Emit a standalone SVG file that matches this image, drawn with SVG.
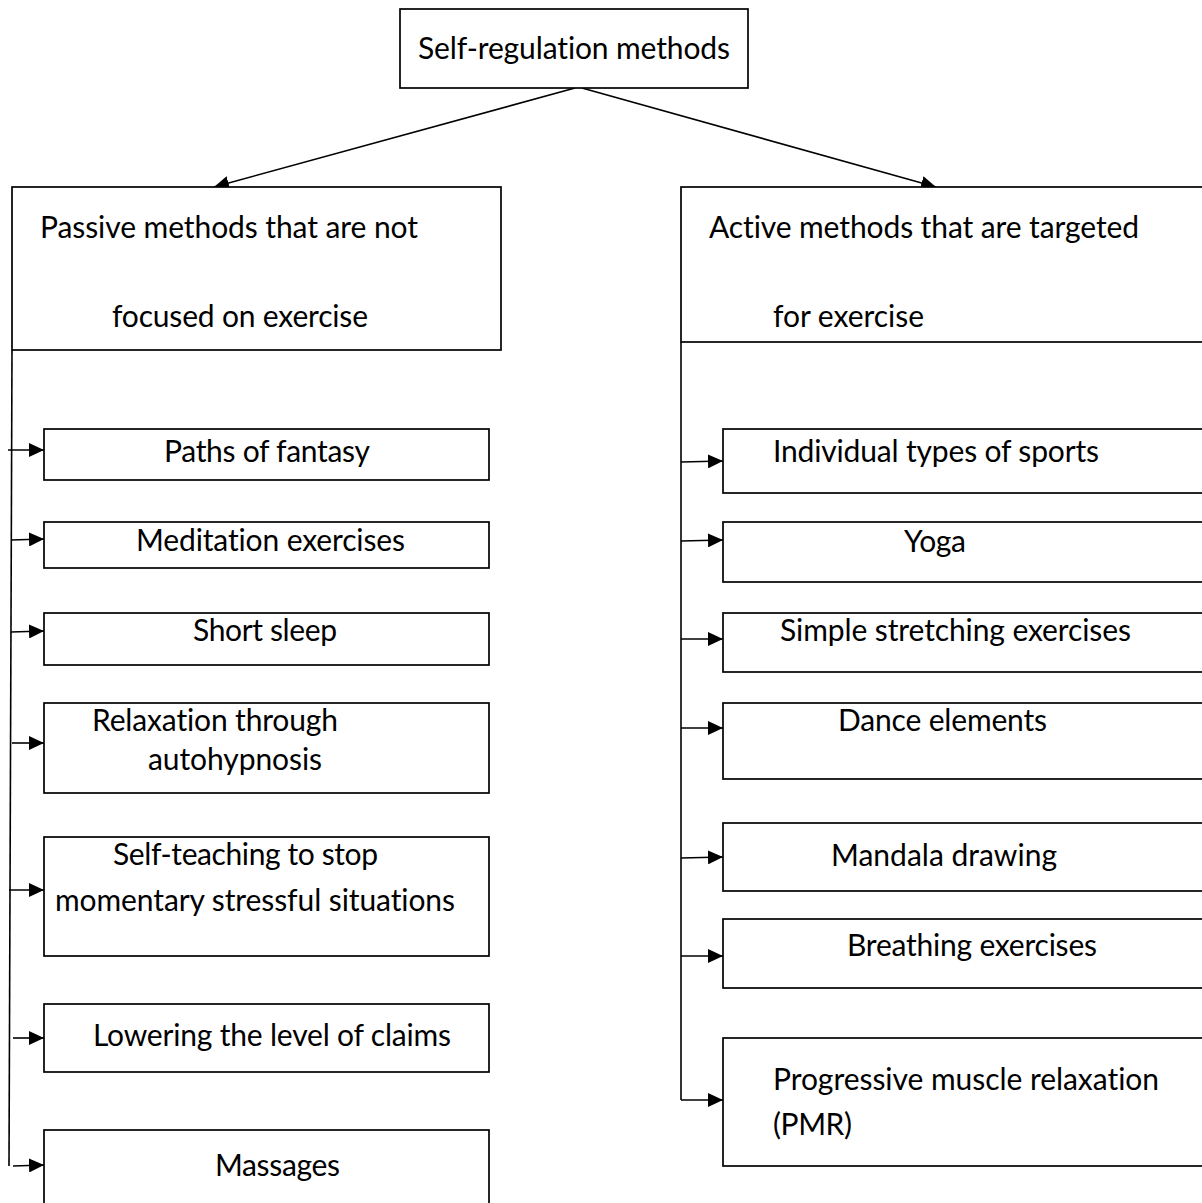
<svg xmlns="http://www.w3.org/2000/svg" width="1202" height="1203" viewBox="0 0 1202 1203">
<defs>
<marker id="ah" markerUnits="userSpaceOnUse" markerWidth="16" markerHeight="14" refX="15" refY="7" orient="auto">
<path d="M0,0 L15,7 L0,14 Z" fill="#000"/>
</marker>
<style>
rect{fill:#fff;stroke:#000;stroke-width:1.7}
text{font-family:Lato,"Liberation Sans",sans-serif;font-size:30px;fill:#000;font-variant-ligatures:none}
.c line,.c path{stroke:#000;stroke-width:1.6;fill:none}
.a{marker-end:url(#ah)}
</style>
</defs>
<rect x="0" y="0" width="1202" height="1203" style="fill:#fff;stroke:none"/>
<g class="c" id="connectors">
<line class="a" x1="575" y1="88" x2="214" y2="187"/>
<line class="a" x1="582" y1="88" x2="936" y2="187"/>
<line x1="12" y1="350" x2="9" y2="1166"/>
<line class="a" x1="8" y1="450" x2="44" y2="450"/>
<line class="a" x1="11" y1="540" x2="44" y2="539"/>
<line class="a" x1="11" y1="632" x2="44" y2="631"/>
<line class="a" x1="12" y1="743" x2="44" y2="743"/>
<line class="a" x1="9" y1="890" x2="44" y2="890"/>
<line class="a" x1="13" y1="1038" x2="44" y2="1038"/>
<line class="a" x1="13" y1="1166" x2="44" y2="1165"/>
<line x1="681" y1="342" x2="681" y2="1100"/>
<line class="a" x1="681" y1="462" x2="723" y2="461"/>
<line class="a" x1="681" y1="541" x2="723" y2="540"/>
<line class="a" x1="681" y1="639" x2="723" y2="639"/>
<line class="a" x1="681" y1="728" x2="723" y2="728"/>
<line class="a" x1="681" y1="858" x2="723" y2="857"/>
<line class="a" x1="681" y1="956" x2="723" y2="956"/>
<line class="a" x1="681" y1="1100" x2="723" y2="1100"/>
</g>
<g id="root"><rect x="400" y="9" width="348" height="79"/><text x="418" y="59" textLength="312">Self-regulation methods</text></g>
<g id="passive"><rect x="12" y="187" width="489" height="163"/><text x="40" y="238" textLength="378">Passive methods that are not</text><text x="112" y="327" textLength="256">focused on exercise</text></g>
<g id="active"><rect x="681" y="187" width="540" height="155"/><text x="709" y="238" textLength="430">Active methods that are targeted</text><text x="773" y="327" textLength="151">for exercise</text></g>
<g id="p1"><rect x="44" y="429" width="445" height="51"/><text x="164" y="462" textLength="206">Paths of fantasy</text></g>
<g id="p2"><rect x="44" y="522" width="445" height="46"/><text x="136" y="551" textLength="269">Meditation exercises</text></g>
<g id="p3"><rect x="44" y="613" width="445" height="52"/><text x="193" y="641" textLength="144">Short sleep</text></g>
<g id="p4"><rect x="44" y="703" width="445" height="90"/><text x="92" y="731" textLength="246">Relaxation through</text><text x="148" y="770" textLength="174">autohypnosis</text></g>
<g id="p5"><rect x="44" y="837" width="445" height="119"/><text x="113" y="865" textLength="265">Self-teaching to stop</text><text x="55" y="911" textLength="400">momentary stressful situations</text></g>
<g id="p6"><rect x="44" y="1004" width="445" height="68"/><text x="93" y="1046" textLength="358">Lowering the level of claims</text></g>
<g id="p7"><rect x="44" y="1130" width="445" height="90"/><text x="215" y="1176" textLength="125">Massages</text></g>
<g id="a1"><rect x="723" y="429" width="500" height="64"/><text x="773" y="462" textLength="326">Individual types of sports</text></g>
<g id="a2"><rect x="723" y="522" width="500" height="60"/><text x="904" y="552" textLength="62">Yoga</text></g>
<g id="a3"><rect x="723" y="613" width="500" height="59"/><text x="780" y="641" textLength="351">Simple stretching exercises</text></g>
<g id="a4"><rect x="723" y="703" width="500" height="76"/><text x="838" y="731" textLength="209">Dance elements</text></g>
<g id="a5"><rect x="723" y="823" width="500" height="68"/><text x="831" y="866" textLength="226">Mandala drawing</text></g>
<g id="a6"><rect x="723" y="919" width="500" height="69"/><text x="847" y="956" textLength="250">Breathing exercises</text></g>
<g id="a7"><rect x="723" y="1038" width="500" height="128"/><text x="773" y="1090" textLength="386">Progressive muscle relaxation</text><text x="773" y="1135" textLength="79">(PMR)</text></g>
</svg>
